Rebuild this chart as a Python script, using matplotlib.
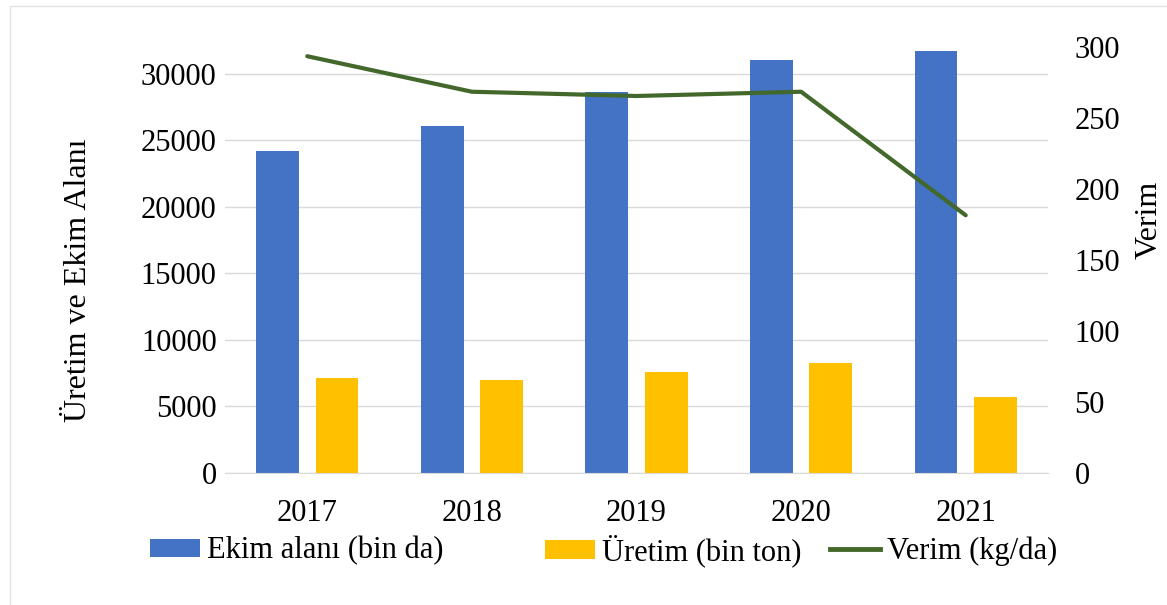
import matplotlib
matplotlib.use("Agg")
import matplotlib.pyplot as plt
import numpy as np
from matplotlib.patches import Rectangle, Patch
from matplotlib.lines import Line2D

years = ["2017", "2018", "2019", "2020", "2021"]
ekim_alani = [24200, 26100, 28600, 31000, 31700]   # bin da
uretim = [7100, 7000, 7600, 8300, 5700]             # bin ton
verim = [293.5, 268.5, 265.5, 268.5, 181.5]         # kg/da

BLUE = "#4472C4"
YELLOW = "#FFC000"
GREEN = "#43682B"
GRID = "#D9D9D9"
FS = 22

plt.rcParams["font.family"] = ["Liberation Serif", "DejaVu Serif"]

fig = plt.figure(figsize=(11.67, 6.05), dpi=100)
fig.patches.append(Rectangle((10 / 1167, -0.01), 1.02, 1 - 6 / 605 + 0.01,
                             transform=fig.transFigure, fill=False,
                             edgecolor="#E3E3E3", linewidth=1.0))

ax = fig.add_axes([225 / 1167, 132 / 605, 823 / 1167, 426 / 605])
x = np.arange(len(years))
w = 0.26
ax.bar(x - 0.18, ekim_alani, w, color=BLUE, zorder=2)
ax.bar(x + 0.18, uretim, w, color=YELLOW, zorder=2)
ax.set_xlim(-0.5, len(years) - 0.5)
ax.set_ylim(0, 32000)
ax.set_yticks(range(0, 30001, 5000))
ax.grid(axis="y", color=GRID, linewidth=1.0, zorder=0)
ax.set_xticks(x)
ax.set_xticklabels(years)
ax.tick_params(length=0, labelsize=FS, colors="black")
ax.tick_params(axis="x", pad=19)
ax.tick_params(axis="y", pad=6)
for s in ["top", "right", "left"]:
    ax.spines[s].set_visible(False)
ax.spines["bottom"].set_color(GRID)
ax.set_ylabel("Üretim ve Ekim Alanı", fontsize=23)
ax.yaxis.set_label_coords(-0.16, 0.453)

ax2 = ax.twinx()
ax2.plot(x, verim, color=GREEN, linewidth=3.0, solid_capstyle="round", zorder=3)
ax2.set_ylim(0, 300)
ax2.set_yticks(range(0, 301, 50))
ax2.tick_params(length=0, labelsize=FS, pad=19)
for s in ax2.spines.values():
    s.set_visible(False)
ax2.set_ylabel("Verim", fontsize=23)
ax2.yaxis.set_label_coords(1.105, 0.594)

# legend entries placed one by one, as in the Excel layout
handles = [Patch(facecolor=BLUE), Patch(facecolor=YELLOW),
           Line2D([0], [0], color=GREEN, linewidth=3.5)]
labels = ["Ekim alanı (bin da)", "Üretim (bin ton)", "Verim (kg/da)"]
starts = [150, 545, 830]
for h, lab, x0 in zip(handles, labels, starts):
    fig.legend([h], [lab], loc="center left",
               bbox_to_anchor=(x0 / 1167, 1 - 551 / 605),
               frameon=False, fontsize=FS, handlelength=1.65, handleheight=0.55,
               handletextpad=0.2, borderpad=0, borderaxespad=0)

fig.savefig("out.png", dpi=100, facecolor="white")
